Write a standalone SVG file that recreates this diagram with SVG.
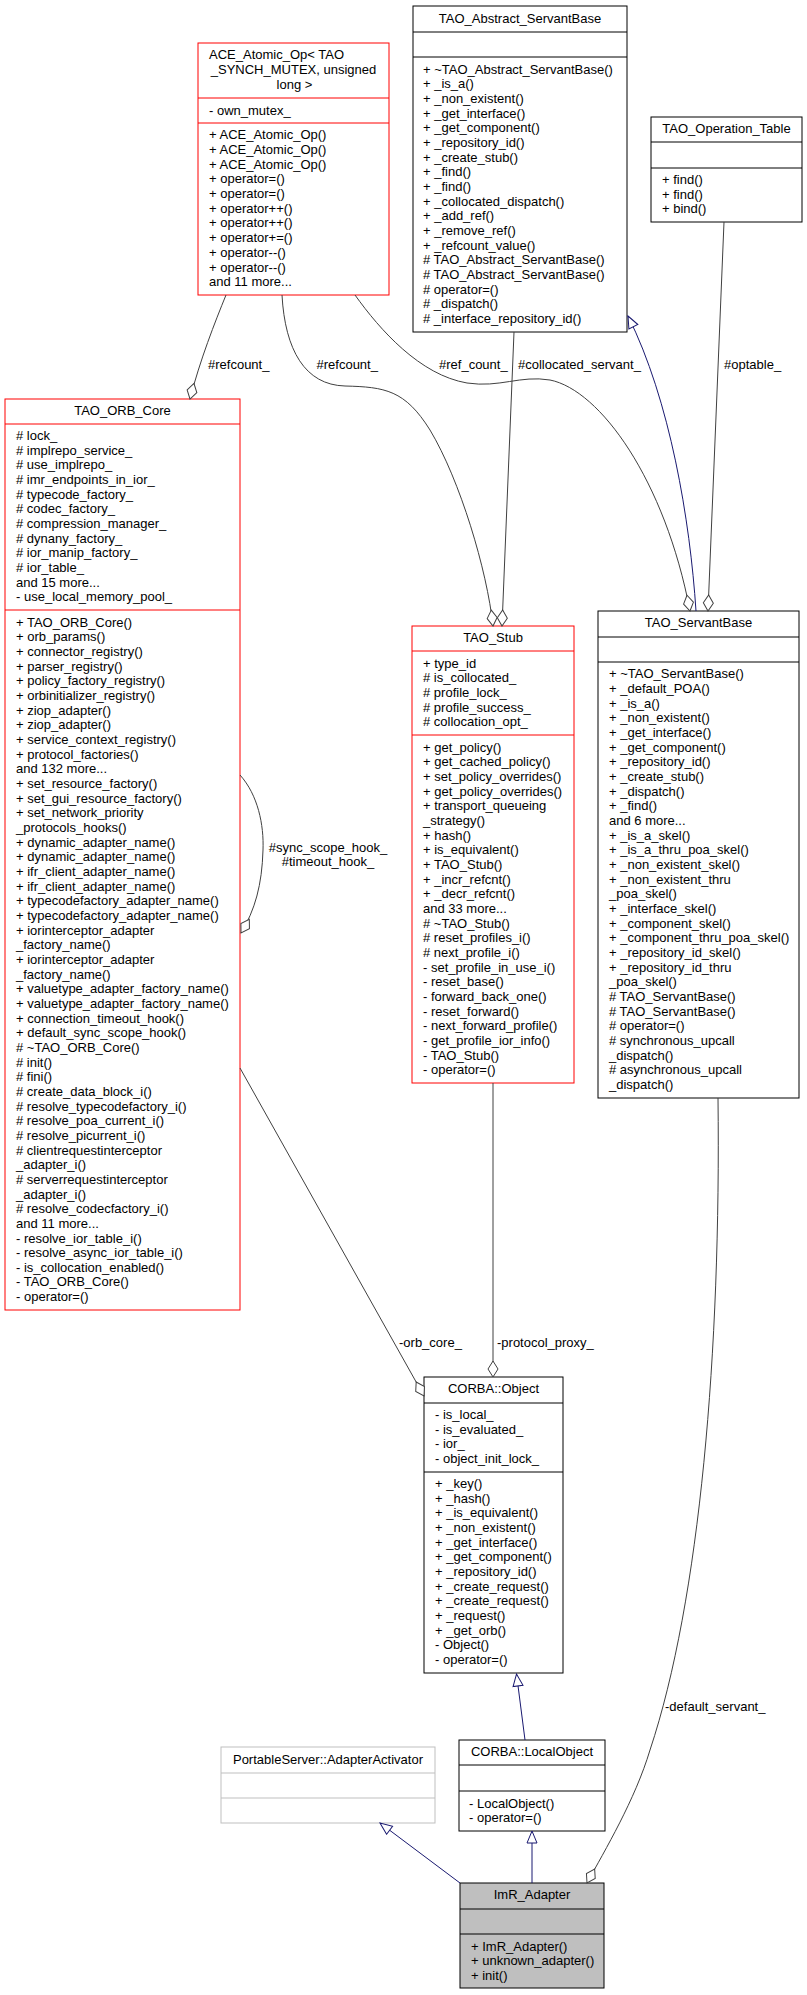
<svg xmlns="http://www.w3.org/2000/svg" width="807" height="1995" viewBox="0 0 807 1995">
<style>
text{font-family:"Liberation Sans",Arial,Helvetica,sans-serif;font-size:13px;fill:#000}
.c{text-anchor:middle}
.box{fill:#fff;stroke:#000;stroke-width:1}
.trunc{stroke:#f00}
.gray{stroke:#bfbfbf}
.sel{fill:#bfbfbf}
.sep{stroke:#000;stroke-width:1}
.sep.trunc{stroke:#f00}
.sep.gray{stroke:#bfbfbf}
.e{fill:none;stroke:#404040;stroke-width:1;marker-end:url(#dia)}
.ei{fill:none;stroke:#191970;stroke-width:1;marker-end:url(#inh)}
</style>
<defs>
<marker id="dia" markerUnits="userSpaceOnUse" markerWidth="18" markerHeight="12" viewBox="-1 -6 18 12" refX="16" refY="0" orient="auto">
<path d="M0,0 L8,-5 L16,0 L8,5 Z" fill="#fff" stroke="#404040" stroke-width="1"/>
</marker>
<marker id="inh" markerUnits="userSpaceOnUse" markerWidth="14" markerHeight="12" viewBox="-1 -6 14 12" refX="12" refY="0" orient="auto">
<path d="M0,-5 L12,0 L0,5 Z" fill="#fff" stroke="#191970" stroke-width="1"/>
</marker>
</defs>
<rect width="807" height="1995" fill="#fff"/>

<g id="ACE_Atomic_Op">
<rect class="box trunc" x="198" y="43" width="191" height="252"/>
<line class="sep trunc" x1="198" y1="98" x2="389" y2="98"/>
<line class="sep trunc" x1="198" y1="123" x2="389" y2="123"/>
<text x="209" y="59.3">ACE_Atomic_Op&lt; TAO</text>
<text class="c" x="293.5" y="74">_SYNCH_MUTEX, unsigned</text>
<text class="c" x="294.5" y="88.7">long &gt;</text>
<text x="209" y="114.5">- own_mutex_</text>
<text y="139.2"><tspan x="209">+ ACE_Atomic_Op()</tspan><tspan x="209" dy="14.7">+ ACE_Atomic_Op()</tspan><tspan x="209" dy="14.7">+ ACE_Atomic_Op()</tspan><tspan x="209" dy="14.7">+ operator=()</tspan><tspan x="209" dy="14.7">+ operator=()</tspan><tspan x="209" dy="14.7">+ operator++()</tspan><tspan x="209" dy="14.7">+ operator++()</tspan><tspan x="209" dy="14.7">+ operator+=()</tspan><tspan x="209" dy="14.7">+ operator--()</tspan><tspan x="209" dy="14.7">+ operator--()</tspan><tspan x="209" dy="14.7">and 11 more...</tspan></text>
</g>

<g id="TAO_Abstract_ServantBase">
<rect class="box" x="413" y="6" width="214" height="326"/>
<line class="sep" x1="413" y1="32" x2="627" y2="32"/>
<line class="sep" x1="413" y1="57" x2="627" y2="57"/>
<text class="c" x="520" y="23">TAO_Abstract_ServantBase</text>
<text y="73.6"><tspan x="423">+ ~TAO_Abstract_ServantBase()</tspan><tspan x="423" dy="14.67">+ _is_a()</tspan><tspan x="423" dy="14.67">+ _non_existent()</tspan><tspan x="423" dy="14.67">+ _get_interface()</tspan><tspan x="423" dy="14.67">+ _get_component()</tspan><tspan x="423" dy="14.67">+ _repository_id()</tspan><tspan x="423" dy="14.67">+ _create_stub()</tspan><tspan x="423" dy="14.67">+ _find()</tspan><tspan x="423" dy="14.67">+ _find()</tspan><tspan x="423" dy="14.67">+ _collocated_dispatch()</tspan><tspan x="423" dy="14.67">+ _add_ref()</tspan><tspan x="423" dy="14.67">+ _remove_ref()</tspan><tspan x="423" dy="14.67">+ _refcount_value()</tspan><tspan x="423" dy="14.67"># TAO_Abstract_ServantBase()</tspan><tspan x="423" dy="14.67"># TAO_Abstract_ServantBase()</tspan><tspan x="423" dy="14.67"># operator=()</tspan><tspan x="423" dy="14.67"># _dispatch()</tspan><tspan x="423" dy="14.67"># _interface_repository_id()</tspan></text>
</g>

<g id="TAO_Operation_Table">
<rect class="box" x="651" y="117" width="151" height="105"/>
<line class="sep" x1="651" y1="142" x2="802" y2="142"/>
<line class="sep" x1="651" y1="168" x2="802" y2="168"/>
<text class="c" x="726.5" y="133">TAO_Operation_Table</text>
<text y="184"><tspan x="662">+ find()</tspan><tspan x="662" dy="14.67">+ find()</tspan><tspan x="662" dy="14.67">+ bind()</tspan></text>
</g>

<g id="TAO_ORB_Core">
<rect class="box trunc" x="5" y="399" width="235" height="911"/>
<line class="sep trunc" x1="5" y1="424" x2="240" y2="424"/>
<line class="sep trunc" x1="5" y1="610" x2="240" y2="610"/>
<text class="c" x="122.5" y="415">TAO_ORB_Core</text>
<text y="440"><tspan x="16"># lock_</tspan><tspan x="16" dy="14.67"># implrepo_service_</tspan><tspan x="16" dy="14.67"># use_implrepo_</tspan><tspan x="16" dy="14.67"># imr_endpoints_in_ior_</tspan><tspan x="16" dy="14.67"># typecode_factory_</tspan><tspan x="16" dy="14.67"># codec_factory_</tspan><tspan x="16" dy="14.67"># compression_manager_</tspan><tspan x="16" dy="14.67"># dynany_factory_</tspan><tspan x="16" dy="14.67"># ior_manip_factory_</tspan><tspan x="16" dy="14.67"># ior_table_</tspan><tspan x="16" dy="14.67">and 15 more...</tspan><tspan x="16" dy="14.67">- use_local_memory_pool_</tspan></text>
<text y="626.8"><tspan x="16">+ TAO_ORB_Core()</tspan><tspan x="16" dy="14.66">+ orb_params()</tspan><tspan x="16" dy="14.66">+ connector_registry()</tspan><tspan x="16" dy="14.66">+ parser_registry()</tspan><tspan x="16" dy="14.66">+ policy_factory_registry()</tspan><tspan x="16" dy="14.66">+ orbinitializer_registry()</tspan><tspan x="16" dy="14.66">+ ziop_adapter()</tspan><tspan x="16" dy="14.66">+ ziop_adapter()</tspan><tspan x="16" dy="14.66">+ service_context_registry()</tspan><tspan x="16" dy="14.66">+ protocol_factories()</tspan><tspan x="16" dy="14.66">and 132 more...</tspan><tspan x="16" dy="14.66">+ set_resource_factory()</tspan><tspan x="16" dy="14.66">+ set_gui_resource_factory()</tspan><tspan x="16" dy="14.66">+ set_network_priority</tspan><tspan x="16" dy="14.66">_protocols_hooks()</tspan><tspan x="16" dy="14.66">+ dynamic_adapter_name()</tspan><tspan x="16" dy="14.66">+ dynamic_adapter_name()</tspan><tspan x="16" dy="14.66">+ ifr_client_adapter_name()</tspan><tspan x="16" dy="14.66">+ ifr_client_adapter_name()</tspan><tspan x="16" dy="14.66">+ typecodefactory_adapter_name()</tspan><tspan x="16" dy="14.66">+ typecodefactory_adapter_name()</tspan><tspan x="16" dy="14.66">+ iorinterceptor_adapter</tspan><tspan x="16" dy="14.66">_factory_name()</tspan><tspan x="16" dy="14.66">+ iorinterceptor_adapter</tspan><tspan x="16" dy="14.66">_factory_name()</tspan><tspan x="16" dy="14.66">+ valuetype_adapter_factory_name()</tspan><tspan x="16" dy="14.66">+ valuetype_adapter_factory_name()</tspan><tspan x="16" dy="14.66">+ connection_timeout_hook()</tspan><tspan x="16" dy="14.66">+ default_sync_scope_hook()</tspan><tspan x="16" dy="14.66"># ~TAO_ORB_Core()</tspan><tspan x="16" dy="14.66"># init()</tspan><tspan x="16" dy="14.66"># fini()</tspan><tspan x="16" dy="14.66"># create_data_block_i()</tspan><tspan x="16" dy="14.66"># resolve_typecodefactory_i()</tspan><tspan x="16" dy="14.66"># resolve_poa_current_i()</tspan><tspan x="16" dy="14.66"># resolve_picurrent_i()</tspan><tspan x="16" dy="14.66"># clientrequestinterceptor</tspan><tspan x="16" dy="14.66">_adapter_i()</tspan><tspan x="16" dy="14.66"># serverrequestinterceptor</tspan><tspan x="16" dy="14.66">_adapter_i()</tspan><tspan x="16" dy="14.66"># resolve_codecfactory_i()</tspan><tspan x="16" dy="14.66">and 11 more...</tspan><tspan x="16" dy="14.66">- resolve_ior_table_i()</tspan><tspan x="16" dy="14.66">- resolve_async_ior_table_i()</tspan><tspan x="16" dy="14.66">- is_collocation_enabled()</tspan><tspan x="16" dy="14.66">- TAO_ORB_Core()</tspan><tspan x="16" dy="14.66">- operator=()</tspan></text>
</g>

<g id="TAO_Stub">
<rect class="box trunc" x="412" y="626" width="162" height="457"/>
<line class="sep trunc" x1="412" y1="651" x2="574" y2="651"/>
<line class="sep trunc" x1="412" y1="735" x2="574" y2="735"/>
<text class="c" x="493" y="642">TAO_Stub</text>
<text y="667.5"><tspan x="423">+ type_id</tspan><tspan x="423" dy="14.67"># is_collocated_</tspan><tspan x="423" dy="14.67"># profile_lock_</tspan><tspan x="423" dy="14.67"># profile_success_</tspan><tspan x="423" dy="14.67"># collocation_opt_</tspan></text>
<text y="751.5"><tspan x="423">+ get_policy()</tspan><tspan x="423" dy="14.67">+ get_cached_policy()</tspan><tspan x="423" dy="14.67">+ set_policy_overrides()</tspan><tspan x="423" dy="14.67">+ get_policy_overrides()</tspan><tspan x="423" dy="14.67">+ transport_queueing</tspan><tspan x="423" dy="14.67">_strategy()</tspan><tspan x="423" dy="14.67">+ hash()</tspan><tspan x="423" dy="14.67">+ is_equivalent()</tspan><tspan x="423" dy="14.67">+ TAO_Stub()</tspan><tspan x="423" dy="14.67">+ _incr_refcnt()</tspan><tspan x="423" dy="14.67">+ _decr_refcnt()</tspan><tspan x="423" dy="14.67">and 33 more...</tspan><tspan x="423" dy="14.67"># ~TAO_Stub()</tspan><tspan x="423" dy="14.67"># reset_profiles_i()</tspan><tspan x="423" dy="14.67"># next_profile_i()</tspan><tspan x="423" dy="14.67">- set_profile_in_use_i()</tspan><tspan x="423" dy="14.67">- reset_base()</tspan><tspan x="423" dy="14.67">- forward_back_one()</tspan><tspan x="423" dy="14.67">- reset_forward()</tspan><tspan x="423" dy="14.67">- next_forward_profile()</tspan><tspan x="423" dy="14.67">- get_profile_ior_info()</tspan><tspan x="423" dy="14.67">- TAO_Stub()</tspan><tspan x="423" dy="14.67">- operator=()</tspan></text>
</g>

<g id="TAO_ServantBase">
<rect class="box" x="598" y="611" width="201" height="487"/>
<line class="sep" x1="598" y1="637" x2="799" y2="637"/>
<line class="sep" x1="598" y1="662" x2="799" y2="662"/>
<text class="c" x="698.5" y="627">TAO_ServantBase</text>
<text y="678.2"><tspan x="609">+ ~TAO_ServantBase()</tspan><tspan x="609" dy="14.67">+ _default_POA()</tspan><tspan x="609" dy="14.67">+ _is_a()</tspan><tspan x="609" dy="14.67">+ _non_existent()</tspan><tspan x="609" dy="14.67">+ _get_interface()</tspan><tspan x="609" dy="14.67">+ _get_component()</tspan><tspan x="609" dy="14.67">+ _repository_id()</tspan><tspan x="609" dy="14.67">+ _create_stub()</tspan><tspan x="609" dy="14.67">+ _dispatch()</tspan><tspan x="609" dy="14.67">+ _find()</tspan><tspan x="609" dy="14.67">and 6 more...</tspan><tspan x="609" dy="14.67">+ _is_a_skel()</tspan><tspan x="609" dy="14.67">+ _is_a_thru_poa_skel()</tspan><tspan x="609" dy="14.67">+ _non_existent_skel()</tspan><tspan x="609" dy="14.67">+ _non_existent_thru</tspan><tspan x="609" dy="14.67">_poa_skel()</tspan><tspan x="609" dy="14.67">+ _interface_skel()</tspan><tspan x="609" dy="14.67">+ _component_skel()</tspan><tspan x="609" dy="14.67">+ _component_thru_poa_skel()</tspan><tspan x="609" dy="14.67">+ _repository_id_skel()</tspan><tspan x="609" dy="14.67">+ _repository_id_thru</tspan><tspan x="609" dy="14.67">_poa_skel()</tspan><tspan x="609" dy="14.67"># TAO_ServantBase()</tspan><tspan x="609" dy="14.67"># TAO_ServantBase()</tspan><tspan x="609" dy="14.67"># operator=()</tspan><tspan x="609" dy="14.67"># synchronous_upcall</tspan><tspan x="609" dy="14.67">_dispatch()</tspan><tspan x="609" dy="14.67"># asynchronous_upcall</tspan><tspan x="609" dy="14.67">_dispatch()</tspan></text>
</g>

<g id="CORBA_Object">
<rect class="box" x="424" y="1377" width="139" height="296"/>
<line class="sep" x1="424" y1="1403" x2="563" y2="1403"/>
<line class="sep" x1="424" y1="1472" x2="563" y2="1472"/>
<text class="c" x="493.5" y="1393">CORBA::Object</text>
<text y="1419"><tspan x="435">- is_local_</tspan><tspan x="435" dy="14.67">- is_evaluated_</tspan><tspan x="435" dy="14.67">- ior_</tspan><tspan x="435" dy="14.67">- object_init_lock_</tspan></text>
<text y="1488"><tspan x="435">+ _key()</tspan><tspan x="435" dy="14.67">+ _hash()</tspan><tspan x="435" dy="14.67">+ _is_equivalent()</tspan><tspan x="435" dy="14.67">+ _non_existent()</tspan><tspan x="435" dy="14.67">+ _get_interface()</tspan><tspan x="435" dy="14.67">+ _get_component()</tspan><tspan x="435" dy="14.67">+ _repository_id()</tspan><tspan x="435" dy="14.67">+ _create_request()</tspan><tspan x="435" dy="14.67">+ _create_request()</tspan><tspan x="435" dy="14.67">+ _request()</tspan><tspan x="435" dy="14.67">+ _get_orb()</tspan><tspan x="435" dy="14.67">- Object()</tspan><tspan x="435" dy="14.67">- operator=()</tspan></text>
</g>

<g id="PortableServer_AdapterActivator">
<rect class="box gray" x="221" y="1747" width="214" height="76"/>
<line class="sep gray" x1="221" y1="1773" x2="435" y2="1773"/>
<line class="sep gray" x1="221" y1="1798" x2="435" y2="1798"/>
<text class="c" x="328" y="1763.5">PortableServer::AdapterActivator</text>
</g>

<g id="CORBA_LocalObject">
<rect class="box" x="459" y="1740" width="146" height="91"/>
<line class="sep" x1="459" y1="1765" x2="605" y2="1765"/>
<line class="sep" x1="459" y1="1791" x2="605" y2="1791"/>
<text class="c" x="532" y="1756">CORBA::LocalObject</text>
<text y="1807.5"><tspan x="469">- LocalObject()</tspan><tspan x="469" dy="14.67">- operator=()</tspan></text>
</g>

<g id="ImR_Adapter">
<rect class="box sel" x="460" y="1883" width="144" height="105"/>
<line class="sep" x1="460" y1="1909" x2="604" y2="1909"/>
<line class="sep" x1="460" y1="1934" x2="604" y2="1934"/>
<text class="c" x="532" y="1899">ImR_Adapter</text>
<text y="1950.5"><tspan x="471">+ ImR_Adapter()</tspan><tspan x="471" dy="14.67">+ unknown_adapter()</tspan><tspan x="471" dy="14.67">+ init()</tspan></text>
</g>

<g id="edges">
<path class="e" d="M226,295 C215,322 200,360 190,399"/>
<path class="e" d="M282,295 C285,350 305,385 345,386 C385,387 405,390 430,430 C460,480 487,570 493,626"/>
<path class="e" d="M355,295 C380,330 420,375 467,383 C500,388 520,375 550,380 C600,390 665,480 690,611"/>
<path class="e" d="M514,332 L502,626"/>
<path class="ei" d="M696,611 C690,520 670,400 628,316"/>
<path class="e" d="M724,222 L708,611"/>
<path class="e" d="M240,775 C258,795 264,825 263,850 C262,885 255,910 241,933"/>
<path class="e" d="M240,1068 L424,1396"/>
<path class="e" d="M493,1083 L493,1377"/>
<path class="ei" d="M525,1740 L516.5,1674"/>
<path class="ei" d="M532,1883 L532,1831"/>
<path class="ei" d="M460,1883 L380,1823"/>
<path class="e" d="M718,1098 C721,1350 700,1600 650,1750 C635,1800 605,1850 587,1883"/>
<text x="208" y="369">#refcount_</text>
<text x="316.5" y="369">#refcount_</text>
<text x="439" y="369">#ref_count_</text>
<text x="518" y="369">#collocated_servant_</text>
<text x="724" y="369">#optable_</text>
<text class="c" x="328" y="852">#sync_scope_hook_</text>
<text class="c" x="328" y="865.5">#timeout_hook_</text>
<text x="399" y="1347">-orb_core_</text>
<text x="497" y="1347">-protocol_proxy_</text>
<text x="665" y="1710.5">-default_servant_</text>
</g>
</svg>
